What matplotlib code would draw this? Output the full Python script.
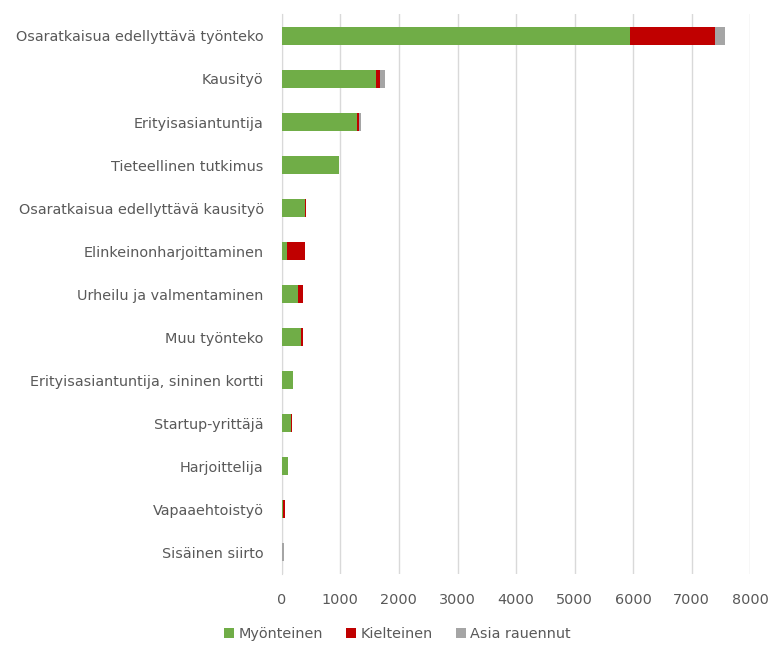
import matplotlib
matplotlib.use("Agg")
import matplotlib.pyplot as plt
import numpy as np

# residence permit types, top to bottom
categories = [
    'Osaratkaisua edellyttävä työnteko',
    'Kausityö',
    'Erityisasiantuntija',
    'Tieteellinen tutkimus',
    'Osaratkaisua edellyttävä kausityö',
    'Elinkeinonharjoittaminen',
    'Urheilu ja valmentaminen',
    'Muu työnteko',
    'Erityisasiantuntija, sininen kortti',
    'Startup-yrittäjä',
    'Harjoittelija',
    'Vapaaehtoistyö',
    'Sisäinen siirto',
]
myonteinen = [5940, 1610, 1290, 975, 395, 90, 280, 325, 195, 150, 110, 15, 5]
kielteinen = [1460, 70, 25, 0, 25, 310, 75, 30, 0, 30, 0, 35, 0]
rauennut = [170, 85, 30, 0, 0, 0, 0, 0, 0, 0, 0, 0, 25]

green = '#70AD47'
red = '#C00000'
gray = '#A5A5A5'
txt = '#595959'

plt.rcParams['font.family'] = ['DejaVu Sans']

fig = plt.figure(figsize=(7.72, 6.46), dpi=100)
ax = fig.add_axes([0.365, 0.112, 0.607, 0.8656])

y = np.arange(len(categories))
a = np.array(myonteinen)
b = np.array(kielteinen)
c = np.array(rauennut)
h = 0.42
ax.barh(y, a, height=h, color=green, label='Myönteinen', zorder=3)
ax.barh(y, b, left=a, height=h, color=red, label='Kielteinen', zorder=3)
ax.barh(y, c, left=a + b, height=h, color=gray, label='Asia rauennut', zorder=3)

ax.set_ylim(len(categories) - 0.5, -0.5)
ax.set_xlim(0, 8000)
ax.set_xticks(range(0, 8001, 1000))
ax.set_yticks(y)
ax.set_yticklabels(categories, fontsize=10.4, color=txt)
ax.tick_params(axis='x', labelsize=10.4, labelcolor=txt, length=0, pad=14)
ax.tick_params(axis='y', length=0, pad=13)

ax.grid(axis='x', color='#D9D9D9', linewidth=1, zorder=0)
for s in ['top', 'right', 'bottom']:
    ax.spines[s].set_visible(False)
ax.spines['left'].set_color('#D9D9D9')

fig.legend(loc='lower center', bbox_to_anchor=(0.515, -0.012), ncol=3, frameon=False,
           fontsize=10.4, handlelength=0.7, handleheight=0.7, handletextpad=0.3,
           columnspacing=1.6, labelcolor=txt)

fig.savefig('out.png', dpi=100)
